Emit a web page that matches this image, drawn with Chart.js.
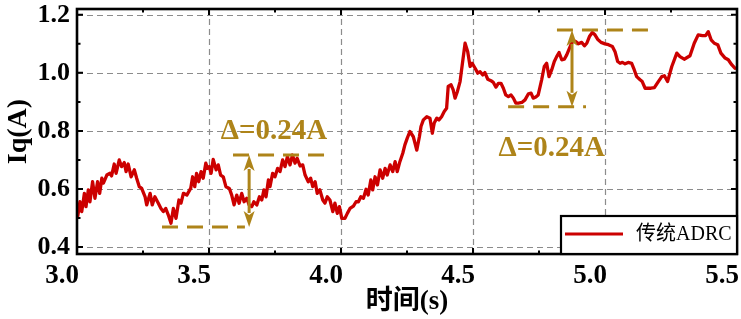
<!DOCTYPE html>
<html><head><meta charset="utf-8">
<script src="https://cdn.jsdelivr.net/npm/chart.js@4/dist/chart.umd.min.js"></script>
<style>html,body{margin:0;padding:0;background:#fff;}canvas{display:block;}</style>
</head><body>
<canvas id="c" width="741" height="319"></canvas>
<script>
const SERIES_LABEL = '传统ADRC';
const T = [3.003,3.011,3.018,3.028,3.034,3.043,3.049,3.059,3.068,3.078,3.086,3.094,3.100,3.113,3.125,3.131,3.141,3.148,3.160,3.169,3.179,3.186,3.194,3.205,3.217,3.226,3.236,3.245,3.258,3.264,3.277,3.285,3.295,3.308,3.318,3.327,3.336,3.346,3.356,3.365,3.375,3.386,3.394,3.403,3.416,3.431,3.438,3.446,3.453,3.461,3.470,3.478,3.488,3.494,3.501,3.508,3.516,3.527,3.535,3.544,3.554,3.564,3.577,3.586,3.595,3.605,3.614,3.624,3.633,3.643,3.652,3.662,3.670,3.681,3.691,3.700,3.708,3.716,3.725,3.731,3.741,3.750,3.760,3.769,3.779,3.788,3.797,3.807,3.816,3.826,3.834,3.845,3.855,3.864,3.876,3.885,3.893,3.902,3.910,3.920,3.931,3.939,3.948,3.958,3.969,3.977,3.986,3.994,4.003,4.015,4.024,4.034,4.047,4.057,4.066,4.075,4.085,4.095,4.103,4.113,4.120,4.129,4.138,4.148,4.158,4.167,4.175,4.186,4.196,4.205,4.213,4.223,4.234,4.242,4.251,4.261,4.274,4.287,4.297,4.303,4.312,4.325,4.337,4.346,4.353,4.363,4.371,4.381,4.391,4.400,4.406,4.417,4.425,4.432,4.441,4.451,4.460,4.470,4.480,4.489,4.497,4.508,4.518,4.527,4.537,4.545,4.556,4.568,4.577,4.587,4.596,4.606,4.615,4.624,4.634,4.644,4.653,4.662,4.672,4.685,4.697,4.710,4.720,4.728,4.738,4.747,4.760,4.770,4.779,4.788,4.798,4.808,4.817,4.826,4.836,4.846,4.855,4.864,4.871,4.880,4.889,4.899,4.912,4.922,4.931,4.941,4.952,4.962,4.972,4.985,5.000,5.013,5.028,5.038,5.048,5.057,5.066,5.076,5.088,5.101,5.111,5.120,5.133,5.141,5.152,5.162,5.174,5.187,5.202,5.215,5.225,5.237,5.253,5.272,5.284,5.300,5.322,5.338,5.353,5.369,5.381,5.391,5.402,5.414,5.427,5.439,5.455,5.467,5.480,5.492];
const IQ = [0.507,0.556,0.522,0.585,0.539,0.597,0.556,0.625,0.568,0.625,0.585,0.637,0.620,0.648,0.654,0.645,0.686,0.654,0.700,0.677,0.691,0.660,0.686,0.642,0.666,0.637,0.608,0.602,0.573,0.545,0.585,0.545,0.573,0.551,0.533,0.522,0.533,0.510,0.482,0.533,0.499,0.562,0.551,0.585,0.579,0.603,0.642,0.608,0.654,0.625,0.660,0.637,0.689,0.671,0.677,0.654,0.702,0.666,0.683,0.648,0.642,0.608,0.602,0.579,0.545,0.579,0.551,0.585,0.556,0.568,0.545,0.539,0.556,0.545,0.573,0.562,0.597,0.573,0.631,0.608,0.654,0.642,0.671,0.660,0.700,0.677,0.711,0.683,0.717,0.689,0.706,0.679,0.683,0.648,0.625,0.637,0.608,0.625,0.585,0.597,0.562,0.551,0.573,0.562,0.522,0.551,0.516,0.539,0.499,0.499,0.516,0.533,0.541,0.556,0.556,0.573,0.568,0.599,0.579,0.631,0.597,0.642,0.614,0.666,0.637,0.671,0.648,0.683,0.660,0.694,0.660,0.694,0.723,0.752,0.775,0.798,0.780,0.734,0.780,0.815,0.838,0.849,0.844,0.792,0.827,0.844,0.838,0.849,0.867,0.878,0.953,0.959,0.941,0.913,0.936,0.970,1.033,1.102,1.073,1.022,1.033,1.016,0.999,1.004,0.993,1.001,0.978,0.973,0.967,0.951,0.964,0.964,0.947,0.924,0.918,0.924,0.913,0.896,0.896,0.898,0.907,0.928,0.930,0.913,0.917,0.924,0.976,1.022,1.033,0.987,1.010,1.039,1.056,1.070,1.045,1.047,1.062,1.082,1.097,1.111,1.108,1.100,1.105,1.093,1.102,1.125,1.139,1.131,1.116,1.105,1.100,1.097,1.091,1.073,1.039,1.033,1.036,1.031,1.036,1.033,1.010,0.987,0.976,0.970,0.947,0.947,0.947,0.949,0.970,0.987,0.990,0.970,1.022,1.068,1.056,1.047,1.059,1.102,1.131,1.128,1.128,1.142,1.114,1.102,1.097,1.068,1.051,1.045,1.028,1.016];
const X_TICKS = [3.0,3.5,4.0,4.5,5.0,5.5];
const X_MINOR = [3.25,3.75,4.25,4.75,5.25];
const Y_TICKS = [0.4,0.6,0.8,1.0,1.2];
const Y_MINOR = [0.5,0.7,0.9,1.1];
const X_RANGE = [3.0,5.5];
const Y_RANGE = [0.376,1.22];
const X_TITLE = '时间(s)';
const Y_TITLE = 'Iq(A)';
// annotations (data units)
const DELTA_TEXT = ['Δ=0.24A','Δ=0.24A'];
const DELTA_LOW = [0.469,0.883];
const DELTA_HIGH = [0.717,1.148];
const LOW_FROM = [3.322,4.633];
const LOW_TO = [3.636,4.928];
const HIGH_FROM = [3.591,4.818];
const HIGH_TO = [3.951,5.178];
const ARROW_X = [3.652,4.875];
const LABEL_X = [3.746,4.798];
const LABEL_Y = [0.797,0.738];

const RED = '#CC0000';
const GOLD = '#AE8419';
const SERIF = "'Liberation Serif','Times New Roman','Noto Sans CJK SC',serif";

const points = T.map((t,i)=>({x:t,y:IQ[i]}));

const decor = {
  id:'decor',
  beforeDatasetsDraw(chart){
    const {ctx, chartArea:a, scales:{x,y}} = chart;
    ctx.save();
    ctx.strokeStyle = '#8c8c8c'; ctx.lineWidth = 1.2; ctx.setLineDash([6,4]);
    X_TICKS.forEach(v=>{ const px = Math.round(x.getPixelForValue(v))+0.5; if(px<a.left+2||px>a.right-2) return; ctx.beginPath(); ctx.moveTo(px,a.top); ctx.lineTo(px,a.bottom); ctx.stroke(); });
    Y_TICKS.forEach(v=>{ const py = Math.round(y.getPixelForValue(v))+0.5; ctx.beginPath(); ctx.moveTo(a.left,py); ctx.lineTo(a.right,py); ctx.stroke(); });
    ctx.restore();
  },
  afterDatasetsDraw(chart){
    const {ctx, chartArea:a, scales:{x,y}} = chart;
    ctx.save();
    // annotations
    ctx.strokeStyle = GOLD; ctx.fillStyle = GOLD; ctx.lineWidth = 3; ctx.setLineDash([16,9]);
    for(let i=0;i<DELTA_TEXT.length;i++){
      const yl = y.getPixelForValue(DELTA_LOW[i]), yh = y.getPixelForValue(DELTA_HIGH[i]);
      ctx.beginPath(); ctx.moveTo(x.getPixelForValue(LOW_FROM[i]),yl); ctx.lineTo(x.getPixelForValue(LOW_TO[i]),yl); ctx.stroke();
      ctx.beginPath(); ctx.moveTo(x.getPixelForValue(HIGH_FROM[i]),yh); ctx.lineTo(x.getPixelForValue(HIGH_TO[i]),yh); ctx.stroke();
    }
    ctx.setLineDash([]);
    for(let i=0;i<DELTA_TEXT.length;i++){
      const ax = x.getPixelForValue(ARROW_X[i]);
      const yl = y.getPixelForValue(DELTA_LOW[i]), yh = y.getPixelForValue(DELTA_HIGH[i]);
      const hl = 16, hw = 5.5;
      ctx.lineWidth = 3;
      ctx.beginPath(); ctx.moveTo(ax,yh+hl-2); ctx.lineTo(ax,yl-hl+2); ctx.stroke();
      ctx.beginPath(); ctx.moveTo(ax,yh); ctx.lineTo(ax-hw,yh+hl); ctx.lineTo(ax,yh+hl-4); ctx.lineTo(ax+hw,yh+hl); ctx.closePath(); ctx.fill();
      ctx.beginPath(); ctx.moveTo(ax,yl); ctx.lineTo(ax-hw,yl-hl); ctx.lineTo(ax,yl-hl+4); ctx.lineTo(ax+hw,yl-hl); ctx.closePath(); ctx.fill();
      ctx.font = 'bold 29px ' + SERIF; ctx.textAlign='center'; ctx.textBaseline='middle';
      ctx.fillText(DELTA_TEXT[i], x.getPixelForValue(LABEL_X[i]), y.getPixelForValue(LABEL_Y[i]));
    }
    // frame
    ctx.strokeStyle = '#000'; ctx.lineWidth = 2.6;
    ctx.strokeRect(a.left, a.top, a.right-a.left, a.bottom-a.top);
    // ticks (inward)
    ctx.lineWidth = 2;
    const tx = (v,len)=>{ const px = x.getPixelForValue(v); ctx.beginPath(); ctx.moveTo(px,a.bottom); ctx.lineTo(px,a.bottom-len); ctx.moveTo(px,a.top); ctx.lineTo(px,a.top+len); ctx.stroke(); };
    const ty = (v,len)=>{ const py = y.getPixelForValue(v); ctx.beginPath(); ctx.moveTo(a.left,py); ctx.lineTo(a.left+len,py); ctx.moveTo(a.right,py); ctx.lineTo(a.right-len,py); ctx.stroke(); };
    X_TICKS.forEach(v=>tx(v,6)); X_MINOR.forEach(v=>tx(v,3.5));
    Y_TICKS.forEach(v=>ty(v,6)); Y_MINOR.forEach(v=>ty(v,3.5));
    // legend
    const lw = 176, lh = 38;
    const lx = a.right - lw, ly = a.bottom - lh;
    ctx.fillStyle = '#fff'; ctx.fillRect(lx, ly, lw, lh);
    ctx.strokeStyle = '#000'; ctx.lineWidth = 2.2; ctx.strokeRect(lx, ly, lw, lh);
    const ds = chart.data.datasets[0];
    ctx.strokeStyle = ds.borderColor; ctx.lineWidth = 3;
    ctx.beginPath(); ctx.moveTo(lx+4, ly+18); ctx.lineTo(lx+62, ly+18); ctx.stroke();
    ctx.fillStyle = '#000'; ctx.font = '20px ' + SERIF; ctx.textAlign='left'; ctx.textBaseline='middle';
    ctx.fillText(ds.label, lx+75, ly+19);
    ctx.restore();
  }
};

const fixedTicks = (arr)=> (s)=>{ s.ticks = arr.map(v=>({value:v})); };

new Chart(document.getElementById('c'), {
  type:'line',
  data:{ datasets:[{ label:SERIES_LABEL, data:points, borderColor:RED, backgroundColor:RED, borderWidth:3.3, borderJoinStyle:'round', borderCapStyle:'round', pointRadius:0, tension:0, fill:false }]},
  options:{
    responsive:false, animation:false, devicePixelRatio:1,
    layout:{ padding:{ top:9, right:4, left:0, bottom:0 } },
    plugins:{ legend:{display:false}, tooltip:{enabled:false} },
    scales:{
      x:{ type:'linear', min:X_RANGE[0], max:X_RANGE[1], afterBuildTicks:fixedTicks(X_TICKS),
          afterFit:(s)=>{ s.height = 65; s.paddingLeft=0; s.paddingRight=0; },
          grid:{display:false, drawTicks:false}, border:{display:false},
          ticks:{ color:'#000', font:{family:SERIF, size:27, weight:'bold'}, labelOffset:-15, padding:6, maxRotation:0, autoSkip:false, callback:(v)=>Number(v).toFixed(1) },
          title:{ display:true, text:X_TITLE, color:'#000', font:{family:SERIF, size:27, weight:'bold'}, padding:{top:0,bottom:1} } },
      y:{ type:'linear', min:Y_RANGE[0], max:Y_RANGE[1], afterBuildTicks:fixedTicks(Y_TICKS),
          afterFit:(s)=>{ s.width = 77; s.paddingTop=0; s.paddingBottom=0; },
          grid:{display:false, drawTicks:false}, border:{display:false},
          ticks:{ color:'#000', font:{family:SERIF, size:26, weight:'bold'}, padding:7, autoSkip:false, callback:(v)=>Number(v).toFixed(1) },
          title:{ display:true, text:Y_TITLE, color:'#000', font:{family:SERIF, size:28, weight:'bold'}, padding:{top:2,bottom:0} } }
    }
  },
  plugins:[decor]
});
</script>
</body></html>
